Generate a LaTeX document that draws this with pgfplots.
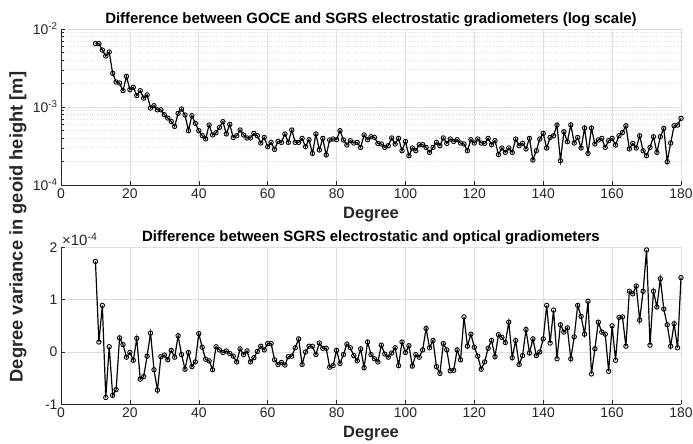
\documentclass[border=0pt]{standalone}
\usepackage{fontspec}
\setmainfont{Liberation Sans}
\usepackage{pgfplots}
\pgfplotsset{compat=1.18}
\usepackage{pgfplotstable}

\pgfplotstableread{
deg val
10 6.5e-3
11 6.5e-3
12 5.37e-3
13 4.5e-3
14 5.07e-3
15 2.70e-3
16 2.09e-3
17 2.03e-3
18 1.62e-3
19 2.47e-3
20 1.67e-3
21 1.79e-3
22 1.40e-3
23 1.62e-3
24 1.30e-3
25 1.43e-3
26 9.7e-4
27 1.04e-3
28 9.2e-4
29 9.2e-4
30 7.96e-4
31 7.22e-4
32 6.53e-4
33 5.63e-4
34 8.28e-4
35 9.42e-4
36 7.89e-4
37 4.97e-4
38 7.73e-4
39 6.17e-4
40 4.97e-4
41 4.3e-4
42 3.9e-4
43 5.87e-4
44 4.38e-4
45 4.67e-4
46 5.48e-4
47 6.49e-4
48 4.51e-4
49 5.98e-4
50 4.07e-4
51 4.28e-4
52 5.07e-4
53 4.38e-4
54 4.01e-4
55 4.01e-4
56 4.59e-4
57 4.28e-4
58 3.45e-4
59 4.07e-4
60 3.10e-4
61 3.52e-4
62 2.86e-4
63 3.62e-4
64 3.52e-4
65 4.51e-4
66 3.52e-4
67 5.07e-4
68 3.52e-4
69 3.52e-4
70 3.96e-4
71 3.10e-4
72 3.81e-4
73 2.54e-4
74 4.51e-4
75 2.81e-4
76 3.96e-4
77 2.43e-4
78 3.78e-4
79 3.89e-4
80 3.81e-4
81 4.97e-4
82 3.78e-4
83 3.26e-4
84 3.70e-4
85 3.45e-4
86 3.52e-4
87 3.03e-4
88 4.38e-4
89 3.8e-4
90 4.16e-4
91 4.07e-4
92 3.41e-4
93 3.36e-4
94 3.03e-4
95 3.19e-4
96 4.01e-4
97 3.36e-4
98 3.96e-4
99 2.75e-4
100 3.62e-4
101 2.38e-4
102 2.98e-4
103 2.75e-4
104 3.29e-4
105 3.29e-4
106 3.03e-4
107 2.62e-4
108 3.03e-4
109 3.52e-4
110 3.19e-4
111 4.01e-4
112 3.41e-4
113 3.89e-4
114 3.62e-4
115 3.81e-4
116 3.45e-4
117 3.36e-4
118 2.75e-4
119 3.81e-4
120 3.45e-4
121 3.89e-4
122 3.45e-4
123 3.41e-4
124 3.96e-4
125 3.29e-4
126 3.70e-4
127 2.45e-4
128 2.98e-4
129 2.62e-4
130 2.98e-4
131 2.62e-4
132 3.89e-4
133 3.19e-4
134 3.43e-4
135 2.90e-4
136 3.96e-4
137 2.09e-4
138 2.75e-4
139 3.89e-4
140 4.59e-4
141 2.98e-4
142 4.07e-4
143 4.28e-4
144 5.87e-4
145 2.05e-4
146 4.82e-4
147 3.59e-4
148 5.9e-4
149 3.45e-4
150 4.07e-4
151 2.98e-4
152 5.37e-4
153 2.54e-4
154 5.37e-4
155 3.36e-4
156 3.78e-4
157 3.96e-4
158 3.03e-4
159 3.70e-4
160 3.96e-4
161 3.26e-4
162 4.28e-4
163 4.71e-4
164 5.75e-4
165 2.90e-4
166 3.41e-4
167 2.98e-4
168 4.28e-4
169 2.75e-4
170 2.38e-4
171 3.03e-4
172 4.16e-4
173 2.62e-4
174 4.16e-4
175 5.32e-4
176 1.99e-4
177 3.45e-4
178 5.75e-4
179 5.87e-4
180 7.14e-4
}\topdata

\pgfplotstableread{
deg val
10 1.73
11 0.19
12 0.89
13 -0.87
14 0.10
15 -0.83
16 -0.72
17 0.27
18 0.14
19 -0.10
20 -0.01
21 -0.16
22 0.26
23 -0.52
24 -0.47
25 -0.08
26 0.36
27 -0.34
28 -0.73
29 -0.09
30 -0.06
31 -0.15
32 0.03
33 -0.10
34 0.31
35 -0.05
36 -0.33
37 -0.01
38 -0.28
39 -0.19
40 0.35
41 0.09
42 -0.14
43 -0.17
44 -0.34
45 0.10
46 0.04
47 -0.01
48 0.02
49 -0.03
50 -0.08
51 -0.19
52 0.06
53 -0.05
54 0.02
55 -0.19
56 -0.11
57 0.01
58 0.11
59 0.04
60 0.16
61 0.16
62 -0.15
63 -0.24
64 -0.20
65 -0.25
66 -0.09
67 -0.08
68 0.08
69 0.25
70 -0.24
71 0.00
72 0.11
73 0.11
74 -0.05
75 0.17
76 0.07
77 0.07
78 -0.29
79 -0.26
80 0.03
81 -0.22
82 -0.05
83 0.15
84 0.08
85 -0.07
86 -0.17
87 0.06
88 -0.30
89 0.19
90 -0.05
91 -0.13
92 -0.19
93 0.13
94 -0.04
95 -0.10
96 -0.02
97 0.08
98 -0.26
99 0.19
100 -0.01
101 0.12
102 -0.27
103 -0.05
104 -0.10
105 0.04
106 0.45
107 0.08
108 0.22
109 -0.28
110 -0.41
111 0.16
112 0.04
113 -0.36
114 -0.35
115 0.04
116 -0.15
117 0.67
118 0.11
119 0.34
120 0.09
121 -0.08
122 -0.33
123 -0.19
124 0.07
125 0.22
126 -0.09
127 0.33
128 0.28
129 0.18
130 0.57
131 -0.11
132 0.22
133 -0.24
134 -0.07
135 0.43
136 -0.02
137 0.25
138 -0.07
139 0.00
140 0.25
141 0.89
142 0.17
143 0.80
144 -0.13
145 0.52
146 0.38
147 0.46
148 -0.13
149 0.29
150 0.89
151 0.68
152 0.34
153 0.97
154 -0.42
155 0.06
156 0.57
157 0.38
158 0.34
159 -0.37
160 0.50
161 -0.16
162 0.66
163 0.67
164 0.11
165 1.16
166 1.11
167 1.26
168 0.61
169 1.16
170 1.95
171 0.13
172 1.16
173 0.86
174 1.40
175 0.82
176 0.52
177 0.11
178 0.54
179 0.08
180 1.42
}\botdata

\definecolor{axgray}{HTML}{262626}
\definecolor{gridgray}{HTML}{DFDFDF}

\pgfplotsset{
  mstyle/.style={
    scale only axis, width=620bp,
    axis x line*=bottom, axis y line*=left,
    axis line style={color=axgray, line width=0.6pt},
    xmin=0, xmax=180, xtick={0,20,...,180},
    tick align=inside, major tick length=4bp, minor tick length=2.5bp,
    tick style={color=axgray, line width=0.5pt},
    xmajorgrids=true, ymajorgrids=true,
    major grid style={color=gridgray, line width=0.6pt},
    ticklabel style={font=\fontsize{14}{16}\selectfont, text=axgray},
    /pgf/number format/assume math mode=true,
    xlabel={Degree},
    xlabel style={font=\fontsize{16.5}{18}\selectfont\bfseries, text=axgray, yshift=-2bp},
    title style={font=\fontsize{15}{17}\selectfont\bfseries, yshift=-7bp},
    clip=false,
  },
  dstyle/.style={black, line width=1.2pt, mark=o, mark size=2.2bp,
    mark options={line width=0.9pt, solid}},
}

\begin{document}
\begin{tikzpicture}
\path[use as bounding box] (0,0) rectangle (693bp,444bp);

\begin{axis}[mstyle,
  at={(61bp,259bp)}, anchor=south west, height=156bp,
  ymode=log, ymin=1e-4, ymax=1e-2,
  ytick={1e-4,1e-3,1e-2},
  yticklabels={10\textsuperscript{-4},10\textsuperscript{-3},10\textsuperscript{-2}},
  yminorgrids=true,
  minor grid style={color=gridgray, dotted, line width=0.6pt},
  title={Difference between GOCE and SGRS electrostatic gradiometers (log scale)},
]
\addplot[dstyle] table[x=deg, y=val] {\topdata};
\end{axis}

\begin{axis}[mstyle,
  at={(61bp,39.7bp)}, anchor=south west, height=157bp,
  ymin=-1, ymax=2, ytick={-1,0,1,2},
  title={Difference between SGRS electrostatic and optical gradiometers},
]
\addplot[dstyle] table[x=deg, y=val] {\botdata};
\node[anchor=south west, inner sep=1bp, text=axgray]
  at (rel axis cs:0,1) {\fontsize{15}{17}\selectfont ×10\textsuperscript{-4}};
\end{axis}

\node[rotate=90, font=\fontsize{18.4}{20}\selectfont\bfseries, text=axgray]
  at (18bp,217bp) {Degree variance in geoid height [m]};
\end{tikzpicture}
\end{document}
